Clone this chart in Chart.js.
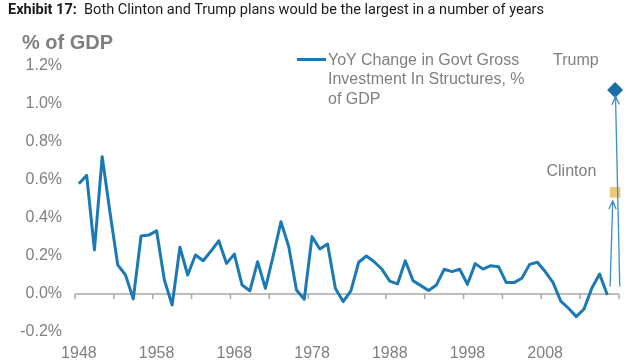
<!DOCTYPE html>
<html lang="en">
<head>
  <meta charset="UTF-8" />
  <title>Exhibit 17</title>
  <script src="https://cdn.jsdelivr.net/npm/chart.js"></script>
  <style>
    body { margin: 0; background: #fff; }
    #wrap { position: relative; width: 640px; height: 360px; overflow: hidden; font-family: "Liberation Sans", Arial, sans-serif; }
    #chart { position: absolute; left: 0; top: 0; }
    .txt { position: absolute; white-space: nowrap; color: #7f7f7f; font-size: 16px; line-height: 19.5px; }
    #title { position: absolute; left: 8px; top: 1.5px; font-family: Roboto, sans-serif; font-size: 14px; line-height: 15px; color: #1a1a1a; white-space: nowrap; transform-origin: 0 0; }
    #unit { position: absolute; left: 22px; top: 32px; font-size: 20px; line-height: 20px; font-weight: bold; color: #7f7f7f; }
    #legendLine { position: absolute; left: 297px; top: 58px; width: 29px; height: 3px; background: #1b7ab4; }
  </style>
</head>
<body>
<div id="wrap">
  <canvas id="chart" width="640" height="360"></canvas>
  <div id="title"><b>Exhibit 17:</b>&nbsp; Both Clinton and Trump plans would be the largest in a number of years</div>
  <div id="unit">% of GDP</div>
  <div id="legendLine"></div>
  <div class="txt" style="left:328px; top:49.5px;">YoY Change in Govt Gross<br>Investment In Structures, %<br>of GDP</div>
  <div class="txt" style="left:553px; top:50px;">Trump</div>
  <div class="txt" style="left:546.5px; top:160.5px;">Clinton</div>
</div>

<script>
// annual series, % of GDP
const years = [
  1948, 1949, 1950, 1951, 1952, 1953, 1954, 1955, 1956, 1957,
  1958, 1959, 1960, 1961, 1962, 1963, 1964, 1965, 1966, 1967,
  1968, 1969, 1970, 1971, 1972, 1973, 1974, 1975, 1976, 1977,
  1978, 1979, 1980, 1981, 1982, 1983, 1984, 1985, 1986, 1987,
  1988, 1989, 1990, 1991, 1992, 1993, 1994, 1995, 1996, 1997,
  1998, 1999, 2000, 2001, 2002, 2003, 2004, 2005, 2006, 2007,
  2008, 2009, 2010, 2011, 2012, 2013, 2014, 2015, 2016
];
const yoyChange = [
  0.58, 0.625, 0.232, 0.723, 0.43, 0.153, 0.10, -0.026, 0.305, 0.31,
  0.333, 0.074, -0.058, 0.246, 0.10, 0.205, 0.175, 0.226, 0.28, 0.161,
  0.21, 0.047, 0.017, 0.17, 0.03, 0.20, 0.38, 0.25, 0.021, -0.028,
  0.302, 0.237, 0.263, 0.03, -0.04, 0.016, 0.167, 0.20, 0.17, 0.13,
  0.068, 0.053, 0.175, 0.07, 0.044, 0.018, 0.047, 0.13, 0.118, 0.13,
  0.051, 0.16, 0.131, 0.149, 0.144, 0.06, 0.06, 0.083, 0.156, 0.167,
  0.118, 0.061, -0.037, -0.075, -0.119, -0.079, 0.03, 0.105, -0.005
];

// plan estimates
const planYear = 2017;
const clintonPlan = 0.535;
const trumpPlan = 1.074;

// arrows: [start, end] as [year, value]
const clintonArrow = [[2016.35, 0.04], [2016.7, 0.49]];
const trumpArrow = [[2017.6, 0.04], [2017.05, 1.04]];

const xLabels = [1948, 1958, 1968, 1978, 1988, 1998, 2008];
const yTicks = [-0.2, 0.0, 0.2, 0.4, 0.6, 0.8, 1.0, 1.2];

const gray = '#7f7f7f';
const font16 = { family: 'Liberation Sans', size: 16 };

// stretch the title to the width it has in the exhibit
const title = document.getElementById('title');
title.style.transform = 'scaleX(' + (536 / title.getBoundingClientRect().width) + ')';

// zero axis line with tick marks every 5 years
const axisPlugin = {
  id: 'zeroAxis',
  beforeDatasetsDraw(chart) {
    const { ctx, scales: { x, y } } = chart;
    const y0 = y.getPixelForValue(0);
    ctx.save();
    ctx.strokeStyle = '#a9a9a9';
    ctx.lineWidth = 1.5;
    ctx.beginPath();
    ctx.moveTo(x.left, y0);
    ctx.lineTo(x.right, y0);
    for (let v = x.min; v <= x.max + 0.01; v += 5) {
      const px = x.getPixelForValue(v);
      ctx.moveTo(px, y0);
      ctx.lineTo(px, y0 + 5);
    }
    ctx.stroke();
    ctx.restore();
  }
};

function drawArrow(ctx, x, y, pts) {
  const x1 = x.getPixelForValue(pts[0][0]), y1 = y.getPixelForValue(pts[0][1]);
  const x2 = x.getPixelForValue(pts[1][0]), y2 = y.getPixelForValue(pts[1][1]);
  const ang = Math.atan2(y2 - y1, x2 - x1);
  const len = 9, spread = 0.42;
  ctx.beginPath();
  ctx.moveTo(x1, y1);
  ctx.lineTo(x2, y2);
  ctx.moveTo(x2 - len * Math.cos(ang - spread), y2 - len * Math.sin(ang - spread));
  ctx.lineTo(x2, y2);
  ctx.lineTo(x2 - len * Math.cos(ang + spread), y2 - len * Math.sin(ang + spread));
  ctx.stroke();
}

const arrowPlugin = {
  id: 'arrows',
  afterDatasetsDraw(chart) {
    const { ctx, scales: { x, y } } = chart;
    ctx.save();
    ctx.strokeStyle = '#3d8ec6';
    ctx.lineWidth = 1.3;
    drawArrow(ctx, x, y, clintonArrow);
    drawArrow(ctx, x, y, trumpArrow);
    ctx.restore();
  }
};

new Chart(document.getElementById('chart'), {
  type: 'line',
  data: {
    datasets: [
      {
        label: 'YoY Change in Govt Gross Investment In Structures, % of GDP',
        data: years.map((yr, i) => ({ x: yr, y: yoyChange[i] })),
        borderColor: '#1b7ab4',
        borderWidth: 3,
        borderJoinStyle: 'round',
        pointRadius: 0,
        tension: 0
      },
      {
        label: 'Clinton',
        data: [{ x: planYear, y: clintonPlan }],
        showLine: false,
        clip: false,
        pointStyle: 'rect',
        pointRadius: 7.5,
        backgroundColor: '#e9c97e',
        borderWidth: 0
      },
      {
        label: 'Trump',
        data: [{ x: planYear, y: trumpPlan }],
        showLine: false,
        clip: false,
        pointStyle: 'rectRot',
        pointRadius: 8,
        backgroundColor: '#1a6fa8',
        borderWidth: 0
      }
    ]
  },
  options: {
    responsive: false,
    animation: false,
    devicePixelRatio: 1,
    layout: { padding: { top: 66, right: 21, left: 0, bottom: 0 } },
    plugins: { legend: { display: false }, tooltip: { enabled: false } },
    scales: {
      x: {
        type: 'linear',
        min: 1947.5,
        max: 2017.5,
        grid: { display: false, drawTicks: false },
        border: { display: false },
        afterBuildTicks(scale) { scale.ticks = xLabels.map(v => ({ value: v })); },
        afterFit(scale) { scale.height = 28; },
        ticks: {
          autoSkip: false,
          maxRotation: 0,
          padding: 12,
          color: gray,
          font: font16,
          callback: v => String(v)
        }
      },
      y: {
        min: -0.2,
        max: 1.2,
        grid: { display: false, drawTicks: false },
        border: { display: false },
        afterBuildTicks(scale) { scale.ticks = yTicks.map(v => ({ value: v })); },
        afterFit(scale) { scale.width = 75; },
        ticks: {
          padding: 13,
          color: gray,
          font: font16,
          callback: v => v.toFixed(1) + '%'
        }
      }
    }
  },
  plugins: [axisPlugin, arrowPlugin]
});
</script>
</body>
</html>
